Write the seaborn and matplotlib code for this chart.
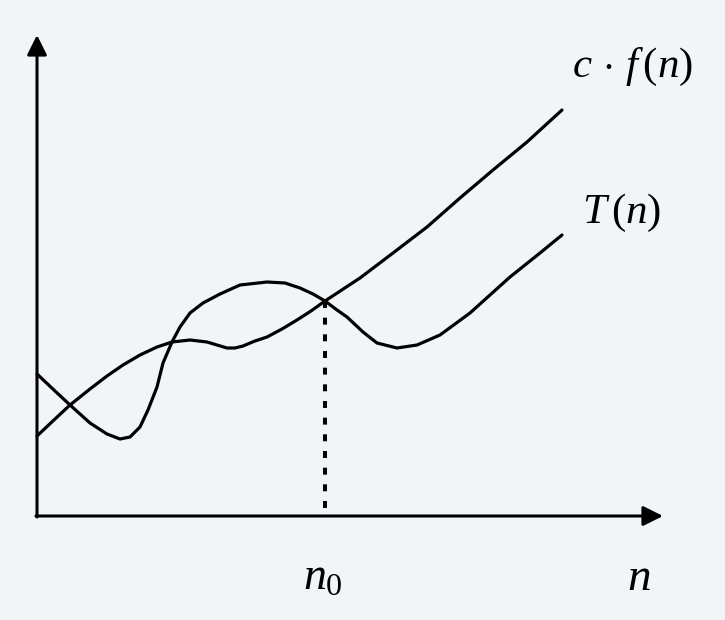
import numpy as np
import pandas as pd
import seaborn as sns
import matplotlib.pyplot as plt

# curve samples (x = n, y = running time, arbitrary units)
cf_n = [0, 18, 33, 53, 70, 86, 103, 120, 135, 153, 170, 180, 190, 198, 206, 218,
        230, 245, 260, 274, 288, 323, 356, 390, 423, 456, 490, 525]
cf_val = [80, 97, 111, 127, 140, 151, 161, 169, 174, 176, 174, 171, 168, 168, 170, 175,
          179, 187, 196, 205, 215, 238, 263, 289, 318, 346, 374, 406]

t_n = [0, 18, 33, 53, 70, 83, 93, 103, 111, 120, 126, 135, 143, 153, 166, 183, 203,
       230, 248, 263, 276, 288, 300, 310, 326, 340, 360, 380, 403, 433, 473, 503, 525]
t_val = [142, 125, 111, 93, 82, 77, 79, 89, 106, 129, 153, 174, 189, 203, 213, 222, 231,
         234, 233, 228, 222, 215, 206, 199, 184, 173, 168, 171, 181, 203, 239, 263, 281]

n0 = 288          # crossing point
n0_val = 215
x_end = 626       # end of the n axis
y_end = 481       # end of the vertical axis

cf_df = pd.DataFrame({"n": cf_n, "val": cf_val})
t_df = pd.DataFrame({"n": t_n, "val": t_val})

sns.set_theme(style="white")
plt.rcParams["font.family"] = ["Liberation Serif", "DejaVu Serif"]
plt.rcParams["mathtext.fontset"] = "custom"
plt.rcParams["mathtext.rm"] = "Liberation Serif"
plt.rcParams["mathtext.it"] = "Liberation Serif:italic"
plt.rcParams["lines.scale_dashes"] = False

bg = "#f2f5f8"
fig = plt.figure(figsize=(7.25, 6.2), dpi=100, facecolor=bg)
ax = fig.add_axes([0, 0, 1, 1])
ax.set_facecolor(bg)

sns.lineplot(data=cf_df, x="n", y="val", sort=False, color="black", lw=2.3, ax=ax)
sns.lineplot(data=t_df, x="n", y="val", sort=False, color="black", lw=2.3, ax=ax)

# dashed drop line at n0
ax.plot([n0, n0], [n0_val, 0], color="black", lw=2.9, linestyle=(0, (5.0, 7.0)))

# axes with arrow heads
arrow = dict(arrowstyle="-|>,head_length=0.4,head_width=0.2", lw=2.2, color="black",
             mutation_scale=30, shrinkA=0, shrinkB=0)
ax.annotate("", xy=(x_end, 0), xytext=(-1, 0), arrowprops=arrow)
ax.annotate("", xy=(0, y_end), xytext=(0, -1), arrowprops=arrow)

# labels
ax.text(596, 449, r"$c\,\cdot\,f\,(n)$", fontsize=31, color="black", ha="center", va="center")
ax.text(585, 303, r"$T\,(n)$", fontsize=31, color="black", ha="center", va="center")
ax.text(n0 - 2, -62, r"$n_0$", fontsize=33, color="black", ha="center", va="center")
ax.text(602, -63, r"$n$", fontsize=34, color="black", ha="center", va="center")

ax.set_xlim(-37, 688)
ax.set_ylim(-104, 516)
ax.axis("off")

fig.savefig("out.png", dpi=100, facecolor=bg)
